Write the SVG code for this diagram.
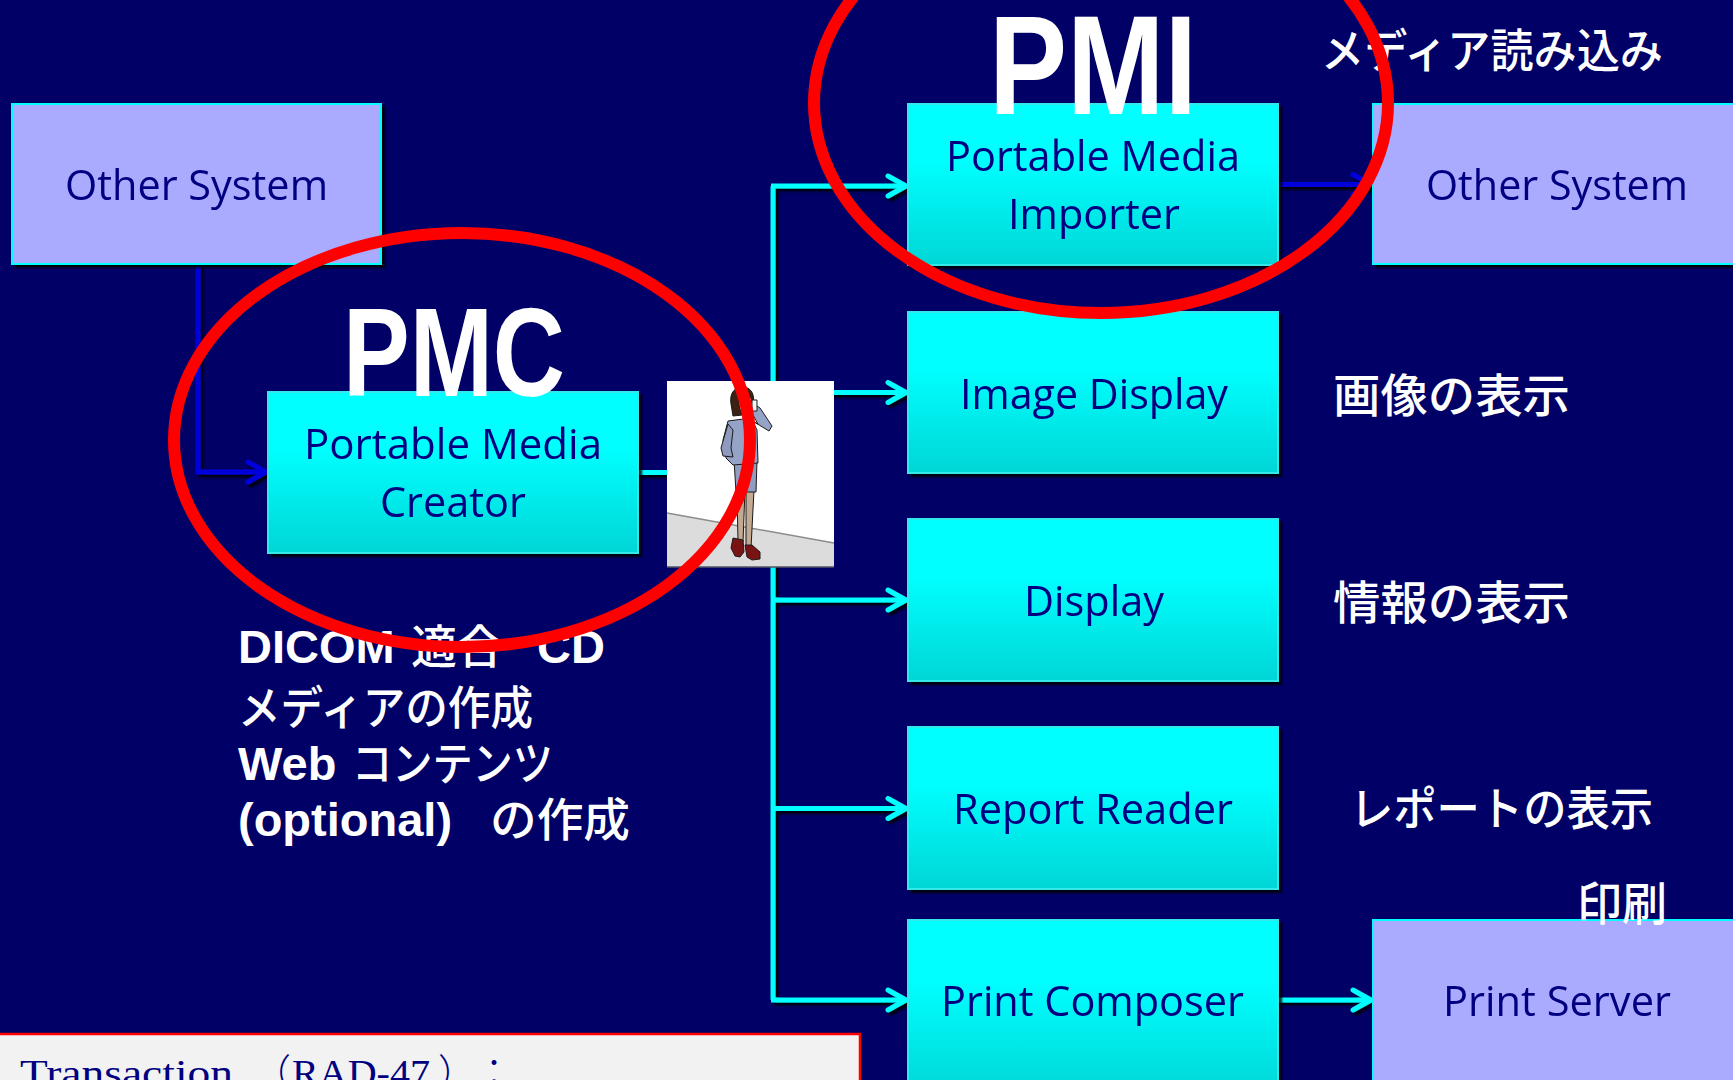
<svg xmlns="http://www.w3.org/2000/svg" width="1733" height="1080" viewBox="0 0 1733 1080">
  <defs>
    <style>
      .bg { fill: #000066; }
      .sys { fill: #AAAAFF; stroke: #00FFFF; stroke-width: 2; }
      .actor { fill: url(#cyanGrad); stroke: #30E8E8; stroke-width: 2; }
      .lbl { font-family: "Open Sans", "Noto Sans", "Liberation Sans", sans-serif; font-size: 42px; fill: #000080; }
      .big { font-family: "Liberation Sans Narrow", "Liberation Sans", Arial, sans-serif; font-weight: bold; fill: #FFFFFF; }
      .jp { font-family: "Noto Sans CJK JP", "Noto Sans CJK SC", sans-serif; font-size: 46px; font-weight: 500; fill: #FFFFFF; }
      .note { font-family: "Liberation Sans", Arial, "Noto Sans CJK JP", sans-serif; font-weight: bold; font-size: 47px; fill: #FFFFFF; }
      .note .k { font-family: "Noto Sans CJK JP", "Noto Sans CJK SC", sans-serif; font-weight: 500; font-size: 46px; }
      .cy { fill: none; stroke: #00FFFF; stroke-width: 5; }
      .bl { fill: none; stroke: #0000DD; stroke-width: 5; }
      .ring { fill: none; stroke: #FF0000; stroke-width: 12; }
      .tx { font-family: "Liberation Serif", "Times New Roman", serif; font-size: 38px; fill: #000080; }
      .tx .k { font-family: "Noto Sans CJK JP", "Noto Sans CJK SC", sans-serif; font-weight: 300; }
    </style>
    <linearGradient id="cyanGrad" x1="0" y1="0" x2="0" y2="1">
      <stop offset="0" stop-color="#00FFFF"/>
      <stop offset="0.35" stop-color="#00FFFF"/>
      <stop offset="1" stop-color="#00D6D6"/>
    </linearGradient>
    <filter id="shadow" x="-5%" y="-5%" width="115%" height="120%">
      <feDropShadow dx="3" dy="3" stdDeviation="0.8" flood-color="#000000" flood-opacity="0.85"/>
    </filter>
    <marker id="arrCyan" viewBox="0 0 24 26" markerWidth="24" markerHeight="26" markerUnits="userSpaceOnUse" refX="21" refY="13" orient="auto">
      <path d="M3,3 L21,13 L3,23" fill="none" stroke="#00FFFF" stroke-width="5" stroke-linecap="round" stroke-linejoin="round"/>
    </marker>
    <marker id="arrBlue" viewBox="0 0 24 26" markerWidth="24" markerHeight="26" markerUnits="userSpaceOnUse" refX="21" refY="13" orient="auto">
      <path d="M3,3 L21,13 L3,23" fill="none" stroke="#0000DD" stroke-width="5" stroke-linecap="round" stroke-linejoin="round"/>
    </marker>
  </defs>

  <rect class="bg" x="0" y="0" width="1733" height="1080"/>

  <!-- connectors -->
  <g id="connectors" filter="url(#shadow)">
    <path class="bl" d="M198,264 V472 H266" marker-end="url(#arrBlue)"/>
    <path class="bl" d="M1278,184.5 H1371" marker-end="url(#arrBlue)"/>
    <path class="cy" d="M638,472.5 H668"/>
    <path class="cy" d="M773,186 V1000"/>
    <path class="cy" d="M771,186 H906" marker-end="url(#arrCyan)"/>
    <path class="cy" d="M773,392.5 H906" marker-end="url(#arrCyan)"/>
    <path class="cy" d="M771,600 H906" marker-end="url(#arrCyan)"/>
    <path class="cy" d="M771,808.5 H906" marker-end="url(#arrCyan)"/>
    <path class="cy" d="M771,1000 H906" marker-end="url(#arrCyan)"/>
    <path class="cy" d="M1278,1000 H1371" marker-end="url(#arrCyan)"/>
  </g>

  <!-- nodes -->
  <g id="other-system-left" filter="url(#shadow)">
    <rect class="sys" x="12" y="104" width="369" height="160"/>
    <text class="lbl" x="65" y="200" textLength="263" lengthAdjust="spacingAndGlyphs">Other System</text>
  </g>

  <g id="pmc" filter="url(#shadow)">
    <rect class="actor" x="268" y="392" width="370" height="161"/>
    <text class="lbl" x="304" y="459" textLength="298" lengthAdjust="spacingAndGlyphs">Portable Media</text>
    <text class="lbl" x="380" y="517" textLength="146" lengthAdjust="spacingAndGlyphs">Creator</text>
  </g>
  <text id="pmc-title" class="big" x="343" y="396" font-size="127" textLength="222" lengthAdjust="spacingAndGlyphs">PMC</text>

  <g id="pmi" filter="url(#shadow)">
    <rect class="actor" x="908" y="104" width="370" height="161"/>
    <text class="lbl" x="946" y="171" textLength="294" lengthAdjust="spacingAndGlyphs">Portable Media</text>
    <text class="lbl" x="1008" y="229" textLength="172" lengthAdjust="spacingAndGlyphs">Importer</text>
  </g>
  <text id="pmi-title" class="big" x="989" y="114" font-size="141" textLength="208" lengthAdjust="spacingAndGlyphs">PMI</text>

  <g id="other-system-right" filter="url(#shadow)">
    <rect class="sys" x="1373" y="104" width="380" height="160"/>
    <text class="lbl" x="1426" y="200" textLength="262" lengthAdjust="spacingAndGlyphs">Other System</text>
  </g>

  <g id="image-display" filter="url(#shadow)">
    <rect class="actor" x="908" y="312" width="370" height="161"/>
    <text class="lbl" x="960" y="409" textLength="268" lengthAdjust="spacingAndGlyphs">Image Display</text>
  </g>

  <g id="display" filter="url(#shadow)">
    <rect class="actor" x="908" y="519" width="370" height="162"/>
    <text class="lbl" x="1024" y="616" textLength="140" lengthAdjust="spacingAndGlyphs">Display</text>
  </g>

  <g id="report-reader" filter="url(#shadow)">
    <rect class="actor" x="908" y="727" width="370" height="162"/>
    <text class="lbl" x="953" y="824" textLength="280" lengthAdjust="spacingAndGlyphs">Report Reader</text>
  </g>

  <g id="print-composer" filter="url(#shadow)">
    <rect class="actor" x="908" y="920" width="370" height="175"/>
    <text class="lbl" x="941" y="1016" textLength="303" lengthAdjust="spacingAndGlyphs">Print Composer</text>
  </g>

  <g id="print-server" filter="url(#shadow)">
    <rect class="sys" x="1373" y="920" width="380" height="175"/>
    <text class="lbl" x="1443" y="1016" textLength="228" lengthAdjust="spacingAndGlyphs">Print Server</text>
  </g>

  <!-- portable media: woman on the phone -->
  <g id="media-picture">
    <rect x="667" y="381" width="167" height="186" fill="#FFFFFF"/>
    <polygon points="667,513 834,543 834,567 667,567" fill="#DCDCDC"/>
    <line x1="667" y1="513" x2="834" y2="543" stroke="#8C8C8C" stroke-width="1.5"/>
    <line x1="667" y1="567" x2="834" y2="567" stroke="#555566" stroke-width="1.5"/>
    <g stroke="#1A1A1A" stroke-width="1" stroke-linejoin="round">
      <!-- legs -->
      <path d="M737,490 L745,490 L743,542 L738,542 Z" fill="#C4AA92"/>
      <path d="M746,490 L754,490 L751,548 L746,548 Z" fill="#C4AA92"/>
      <!-- shoes -->
      <path d="M733,538 L743,540 L744,552 L740,557 L735,556 L731,548 Z" fill="#7A1414"/>
      <path d="M745,545 L752,545 L760,552 L760,559 L752,560 L747,557 Z" fill="#7A1414"/>
      <!-- skirt -->
      <path d="M734,460 L757,460 L756,492 L736,492 Z" fill="#8F9DC2"/>
      <!-- jacket -->
      <path d="M728,421 L751,418 L757,430 L758,463 L733,465 L726,458 L723,440 Z" fill="#95A3C6"/>
      <!-- hanging arm -->
      <path d="M728,424 L721,448 L723,456 L733,457 L731,448 L733,430 Z" fill="#8E9BBF"/>
      <!-- raised arm to the phone -->
      <path d="M751,420 L769,431 L772,426 L760,408 L754,404 L750,410 L758,424 Z" fill="#95A3C6"/>
      <!-- hair, face, phone -->
      <path d="M731,404 C729,392 736,386 744,387 C752,388 755,396 753,404 L752,414 L733,416 Z" fill="#3B2212"/>
      <path d="M740,396 C744,392 751,394 752,402 C752,410 748,414 743,413 C739,411 738,402 740,396 Z" fill="#F3D2B5"/>
      <rect x="752" y="400" width="5" height="11" fill="#F5F5F5"/>
    </g>
  </g>

  <!-- captions -->
  <text id="cap-import" class="jp" x="1321" y="67" textLength="342" lengthAdjust="spacingAndGlyphs">メディア読み込み</text>
  <text id="cap-image" class="jp" x="1333" y="412" textLength="237" lengthAdjust="spacingAndGlyphs">画像の表示</text>
  <text id="cap-info" class="jp" x="1333" y="619" textLength="237" lengthAdjust="spacingAndGlyphs">情報の表示</text>
  <text id="cap-report" class="jp" x="1350" y="825" textLength="303" lengthAdjust="spacingAndGlyphs">レポートの表示</text>
  <text id="cap-print" class="jp" x="1577" y="920" font-weight="bold" textLength="90" lengthAdjust="spacingAndGlyphs">印刷</text>

  <g id="pmc-note" class="note">
    <text x="238" y="663"><tspan>DICOM</tspan><tspan class="k" x="411">適合</tspan><tspan x="537">CD</tspan></text>
    <text x="238" y="724"><tspan class="k" textLength="295" lengthAdjust="spacingAndGlyphs">メディアの作成</tspan></text>
    <text x="238" y="780"><tspan>Web</tspan><tspan class="k" x="352" textLength="201" lengthAdjust="spacingAndGlyphs">コンテンツ</tspan></text>
    <text x="238" y="836"><tspan>(optional)</tspan><tspan class="k" x="490" textLength="140" lengthAdjust="spacingAndGlyphs">の作成</tspan></text>
  </g>

  <!-- highlight rings -->
  <ellipse class="ring" cx="462" cy="440" rx="288" ry="207"/>
  <ellipse class="ring" cx="1101" cy="103" rx="287" ry="210"/>

  <!-- transaction note -->
  <g id="transaction-note">
    <rect x="-2" y="1034" width="862" height="60" fill="#F2F2F2" stroke="#FF0000" stroke-width="2.5"/>
    <text class="tx" y="1086"><tspan x="20" textLength="213" lengthAdjust="spacingAndGlyphs">Transaction</tspan><tspan class="k" x="253">（</tspan><tspan x="292" textLength="138" lengthAdjust="spacingAndGlyphs">RAD-47</tspan><tspan class="k" x="438">）</tspan><tspan class="k" x="475">：</tspan></text>
  </g>
</svg>
